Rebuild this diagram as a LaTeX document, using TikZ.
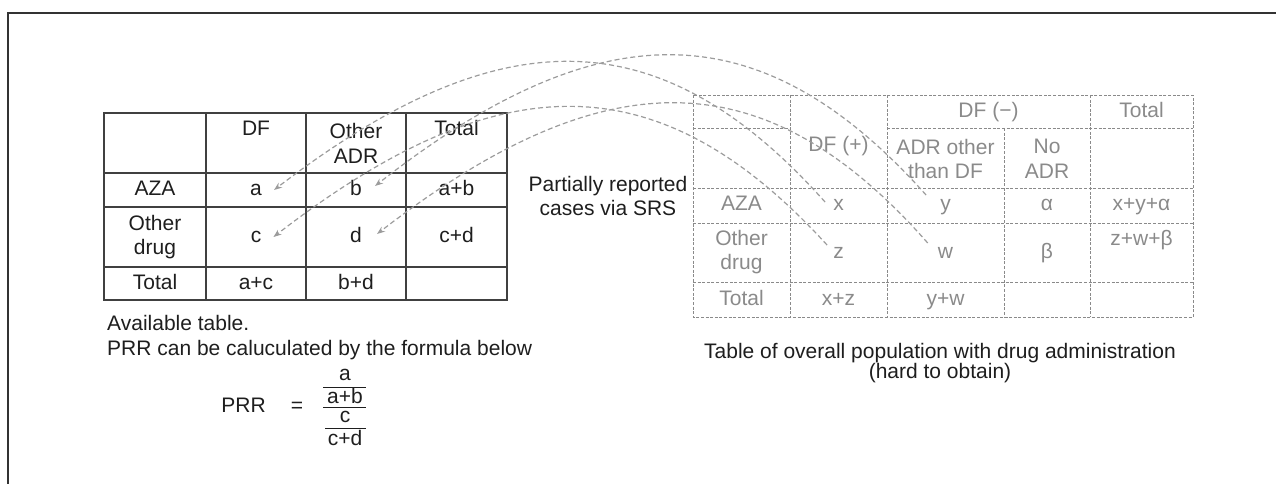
\documentclass[tikz,border=0pt]{standalone}
\usepackage{fontspec}
\setmainfont{Liberation Sans}
\usetikzlibrary{arrows.meta}
\definecolor{ink}{HTML}{1E1E1E}
\definecolor{rulecol}{HTML}{404040}
\definecolor{faint}{HTML}{8A8A8A}
\definecolor{linkcol}{HTML}{9C9C9C}
\definecolor{framecol}{HTML}{333333}

\begin{document}
\begin{tikzpicture}[x=1pt,y=-1pt,
  base/.style={font=\fontsize{21}{24.5}\selectfont, inner sep=0pt, align=center},
  one/.style={base, text height=15pt, text depth=4pt},
  dark/.style={text=ink},
  pale/.style={text=faint},
  solidgrid/.style={draw=rulecol, line width=1.4pt},
  dashgrid/.style={draw=faint, line width=0.9pt, dash pattern=on 3pt off 1.6pt},
  link/.style={draw=linkcol, line width=1.2pt, dash pattern=on 5pt off 3pt,
    -{Stealth[length=8pt,width=6pt]}},
  fracbar/.style={draw=ink, line width=1pt},
]
\useasboundingbox (0,0) rectangle (1276,484);

% open frame: top and left rules
\draw[framecol, line width=1.2pt] (8,484) -- (8,13) -- (1276,13);

% ---------- available 2x2 table ----------
\draw[solidgrid] (104,113) rectangle (507,300);
\foreach \xx in {206,306,406} \draw[solidgrid] (\xx,113) -- (\xx,300);
\foreach \yy in {173,207,267} \draw[solidgrid] (104,\yy) -- (507,\yy);

\node[one,dark] (lt-df)  at (256,130) {DF};
\node[base,dark] (lt-oadr) at (356,143.5) {Other\\ADR};
\node[one,dark] (lt-tot) at (456.5,130) {Total};

\node[one,dark] (lt-aza) at (155,190) {AZA};
\node[one,dark] (sa) at (256,190) {a};
\node[one,dark] (sb) at (356,190) {b};
\node[one,dark] (sab) at (456.5,190) {a+b};

\node[base,dark] (lt-od) at (155,237) {Other\\drug};
\node[one,dark] (sc) at (256,237) {c};
\node[one,dark] (sd) at (356,237) {d};
\node[one,dark] (scd) at (456.5,237) {c+d};

\node[one,dark] (lt-total) at (155,284) {Total};
\node[one,dark] (sac) at (256,284) {a+c};
\node[one,dark] (sbd) at (356,284) {b+d};

% ---------- captions and formula ----------
\node[one,dark,anchor=west] (cap1) at (107,325) {Available table.};
\node[one,dark,anchor=west] (cap2) at (107,350) {PRR can be caluculated by the formula below};

\node[one,dark] (prr) at (243.5,407) {PRR};
\node[one,dark] (eq) at (297,407) {=};
\node[one,dark] (fa) at (345,375) {a};
\node[one,dark] (fab) at (345,397.5) {a+b};
\node[one,dark] (fc) at (345,416.5) {c};
\node[one,dark] (fcd) at (345,440) {c+d};
\draw[fracbar] (323,387) -- (366,387);
\draw[fracbar] (323,407) -- (366,407);
\draw[fracbar] (325,428) -- (366,428);

\node[base,dark] (srs) at (608,196) {Partially reported\\cases via SRS};

% ---------- full population table ----------
\draw[dashgrid] (693,95) rectangle (1193,317);
\foreach \xx in {790,887,1090} \draw[dashgrid] (\xx,95) -- (\xx,317);
\draw[dashgrid] (1004,128) -- (1004,317);
\draw[dashgrid] (693,128) -- (790,128);
\draw[dashgrid] (887,128) -- (1193,128);
\foreach \yy in {188,223,282} \draw[dashgrid] (693,\yy) -- (1193,\yy);

\node[one,pale] (rt-dfm) at (988.5,112) {DF (−)};
\node[one,pale] (rt-tot) at (1141.5,112) {Total};
\node[one,pale] (rt-dfp) at (838.5,146) {DF (+)};
\node[base,pale] (rt-adr) at (945.5,159) {ADR other\\than DF};
\node[base,pale] (rt-no) at (1047,159) {No\\ADR};

\node[one,pale] (rt-aza) at (741.5,205) {AZA};
\node[one,pale] (px) at (838.5,205) {x};
\node[one,pale] (py) at (945.5,205) {y};
\node[one,pale] (palpha) at (1047,205) {α};
\node[one,pale] (pxya) at (1141.5,205) {x+y+α};

\node[base,pale] (rt-od) at (741.5,252) {Other\\drug};
\node[one,pale] (pz) at (838.5,253) {z};
\node[one,pale] (pw) at (945.5,253) {w};
\node[one,pale] (pbeta) at (1047,253) {β};
\node[one,pale] (pzwb) at (1141.5,240) {z+w+β};

\node[one,pale] (rt-total) at (741.5,300) {Total};
\node[one,pale] (pxz) at (838.5,300) {x+z};
\node[one,pale] (pyw) at (945.5,300) {y+w};

\node[base,dark,font=\fontsize{21}{20}\selectfont] (popcap) at (940,363)
  {Table of overall population with drug administration\\(hard to obtain)};

% ---------- reported cells traced back to the available table ----------
\draw[link] ([xshift=-8pt,yshift=3pt]px.west)
  .. controls (660,17) and (500,17) .. ([xshift=12pt]sa.east);
\draw[link] ([xshift=-14pt,yshift=10pt]py.west)
  .. controls (761,10) and (600,10) .. ([xshift=13pt,yshift=4pt]sb.east);
\draw[link] ([xshift=-6pt,yshift=8pt]pz.west)
  .. controls (660,62) and (500,62) .. ([xshift=12pt]sc.east);
\draw[link] ([xshift=-10pt,yshift=10pt]pw.west)
  .. controls (765,58) and (605,58) .. ([xshift=15pt,yshift=3pt]sd.east);
\end{tikzpicture}
\end{document}
